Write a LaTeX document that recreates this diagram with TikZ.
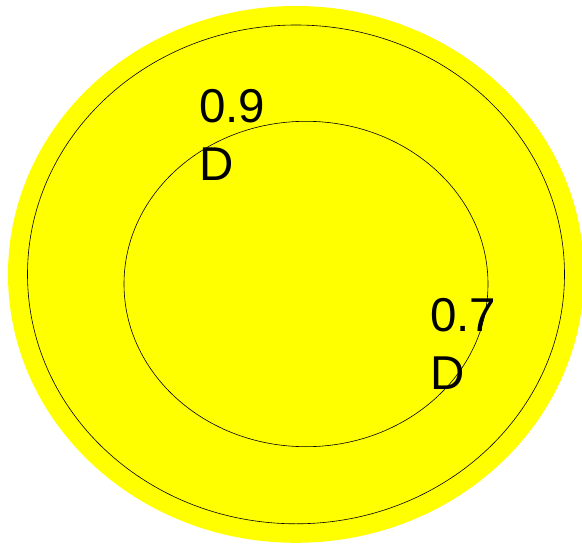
\documentclass[tikz,border=0pt]{standalone}
\usepackage{fontspec}
\setmainfont{Liberation Sans}
\definecolor{discfill}{RGB}{255,255,0}
\begin{document}
\begin{tikzpicture}[x=1pt, y=-1pt, every node/.style={font=\fontsize{47.5}{58}\selectfont}]
        \useasboundingbox (0,0) rectangle (582,544);
        \fill[discfill] (296,274.4) ellipse [x radius=288, y radius=268.4];
        \draw[line width=0.6pt] (296,274.4) ellipse [x radius=268.5, y radius=249.4];
        \draw[line width=0.6pt] (306,284) ellipse [x radius=182, y radius=162.7];
        \node[align=left, inner sep=0pt, anchor=base west] (outer) at (199,180) {0.9\\D};
        \node[align=left, inner sep=0pt, anchor=base west] (inner) at (430,389.5) {0.7\\D};
    \end{tikzpicture}
\end{document}
